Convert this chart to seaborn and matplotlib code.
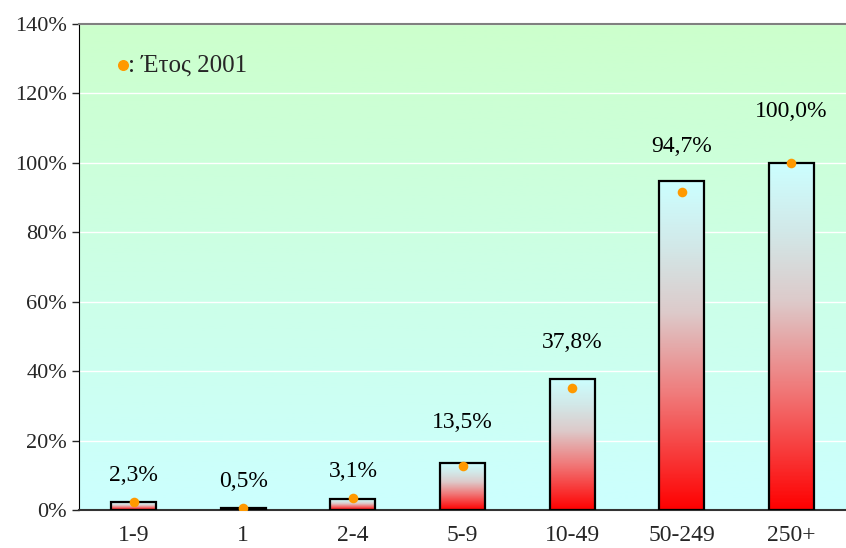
import matplotlib

matplotlib.use("Agg")
import matplotlib.pyplot as plt
import numpy as np
import pandas as pd
import seaborn as sns
from matplotlib.colors import LinearSegmentedColormap
from matplotlib.ticker import FuncFormatter, MultipleLocator

# --- data ---
categories = ["1-9", "1", "2-4", "5-9", "10-49", "50-249", "250+"]
share_2002 = [2.3, 0.5, 3.1, 13.5, 37.8, 94.7, 100.0]
share_2001 = [2.3, 0.5, 3.6, 12.8, 35.2, 91.7, 100.0]
bar_labels = ["2,3%", "0,5%", "3,1%", "13,5%", "37,8%", "94,7%", "100,0%"]
legend_text = ": Έτος 2001"

# label offsets above the bar tops (points), hand placed as in the original
label_offsets = [19, 19, 20, 29, 26, 25, 37]

df = pd.DataFrame({"group": categories, "value": share_2002})

sns.set_style("white")
plt.rcParams["font.family"] = ["Liberation Serif", "DejaVu Serif"]

fig = plt.figure(figsize=(8.46, 5.48), dpi=100)
ax = fig.add_axes([79 / 846, 38 / 548, 1 - 79 / 846, 486 / 548])

# background gradient: light cyan bottom -> light green top
bg = LinearSegmentedColormap.from_list("bg", ["#ccffff", "#ccffcc"])
ax.imshow(
    np.linspace(0, 1, 256).reshape(-1, 1),
    cmap=bg,
    aspect="auto",
    origin="lower",
    extent=(0, 1, 0, 1),
    transform=ax.transAxes,
    zorder=0,
)

sns.barplot(
    data=df,
    x="group",
    y="value",
    width=0.41,
    facecolor="none",
    edgecolor="black",
    linewidth=1.6,
    ax=ax,
    zorder=3,
)

# fill each bar with its own vertical gradient
bar_cmap = LinearSegmentedColormap.from_list(
    "bar",
    [
        (0.0, "#ff0000"),
        (0.35, "#f07a7a"),
        (0.6, "#ddcaca"),
        (0.8, "#d2e8e8"),
        (1.0, "#ccffff"),
    ],
)
grad = np.linspace(0, 1, 256).reshape(-1, 1)
for patch in ax.patches:
    x0, y0 = patch.get_x(), patch.get_y()
    w, h = patch.get_width(), patch.get_height()
    im = ax.imshow(
        grad,
        cmap=bar_cmap,
        aspect="auto",
        origin="lower",
        extent=(x0, x0 + w, y0, y0 + h),
        zorder=2,
    )
    im.set_clip_path(patch)

# 2001 markers
sns.scatterplot(
    x=categories,
    y=share_2001,
    color="#ff9900",
    s=48,
    linewidth=0,
    ax=ax,
    zorder=5,
)

for i, (v, lab) in enumerate(zip(share_2002, bar_labels)):
    ax.annotate(
        lab,
        (i, v),
        xytext=(0, label_offsets[i]),
        textcoords="offset points",
        ha="center",
        va="center",
        fontsize=17,
        color="black",
    )

# legend-like note
ax.scatter([0.058], [0.915], s=48, color="#ff9900", transform=ax.transAxes, zorder=5)
ax.text(
    0.064, 0.914, legend_text, transform=ax.transAxes, ha="left", va="center", fontsize=18
)

ax.set_xlim(-0.5, len(categories) - 0.5)
ax.set_ylim(0, 140)
ax.yaxis.set_major_locator(MultipleLocator(20))
ax.yaxis.set_major_formatter(FuncFormatter(lambda v, _: f"{v:.0f}%"))
ax.set_axisbelow(True)
ax.grid(axis="y", color="white", linewidth=1)

ax.set_xlabel("")
ax.set_ylabel("")
ax.set_xticks(np.arange(len(categories)))
ax.set_xticklabels(categories, fontsize=17)
ax.set_xticks(np.arange(len(categories) - 1) + 0.5, minor=True)
ax.tick_params(axis="x", which="major", length=0, pad=11)
ax.tick_params(axis="x", which="minor", length=10, direction="inout", width=1)
ax.tick_params(axis="y", length=5, direction="out", width=1, labelsize=16, left=True)

ax.spines["right"].set_visible(False)
ax.spines["top"].set_color("#808080")
ax.spines["top"].set_linewidth(1.5)
ax.spines["left"].set_color("black")
ax.spines["bottom"].set_color("#333333")
ax.spines["bottom"].set_linewidth(1.5)

fig.savefig("out.png", dpi=100)
